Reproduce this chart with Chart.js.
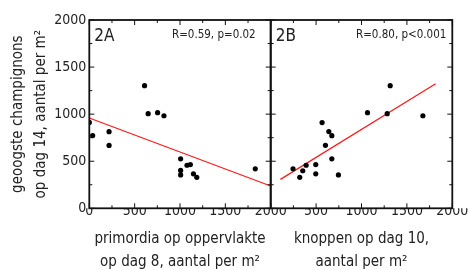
<!DOCTYPE html>
<html>
<head>
<meta charset="utf-8">
<script src="https://cdn.jsdelivr.net/npm/chart.js@4"></script>
<style>
  body { margin: 0; background: #fff; }
  #wrap { position: relative; width: 468px; height: 270px; }
  canvas { position: absolute; left: 0; top: 0; }
</style>
</head>
<body>
<div id="wrap">
  <canvas id="grafiekA" width="468" height="270"></canvas>
  <canvas id="grafiekB" width="468" height="270"></canvas>
</div>
<script>
// paneel 2A: primordia op dag 8 tegen geoogste champignons op dag 14
const primordiaX = [0, 37, 218, 218, 609, 649, 753, 823, 1007, 1007, 1007, 1077, 1114, 1148, 1185, 1830];
const oogstA = [912, 772, 814, 668, 1302, 1005, 1016, 983, 526, 402, 355, 457, 464, 366, 329, 419];
const lijnAX = [0, 2000];
const lijnAY = [959, 237];

// paneel 2B: knoppen op dag 10
const knoppenX = [246, 320, 353, 390, 496, 496, 566, 603, 640, 673, 673, 746, 1066, 1283, 1316, 1676];
const oogstB = [420, 329, 399, 457, 464, 366, 910, 669, 815, 771, 526, 355, 1016, 1005, 1302, 983];
const lijnBX = [107, 1816];
const lijnBY = [307, 1323];

const asTicks = [0, 500, 1000, 1500, 2000];

const lettertype = "'Liberation Sans Narrow', 'DejaVu Sans Condensed', sans-serif";
const tekstKleur = "#222";

function punten(xs, ys) {
  return xs.map((x, i) => ({ x: x, y: ys[i] }));
}

// kader met naar binnen gerichte streepjes en de labels in de hoek
const kader = {
  id: "kader",
  afterDraw(chart, args, opts) {
    const ctx = chart.ctx;
    const a = chart.chartArea;
    const sx = chart.scales.x;
    const sy = chart.scales.y;
    ctx.save();
    ctx.strokeStyle = "#111";
    ctx.lineWidth = 1;
    for (let v = 0; v <= 2000; v += 250) {
      const lang = v % 500 === 0 ? 5 : 3;
      const px = sx.getPixelForValue(v);
      const py = sy.getPixelForValue(v);
      ctx.beginPath();
      ctx.moveTo(px, a.bottom); ctx.lineTo(px, a.bottom - lang);
      ctx.moveTo(px, a.top); ctx.lineTo(px, a.top + lang);
      ctx.moveTo(a.left, py); ctx.lineTo(a.left + lang, py);
      ctx.moveTo(a.right, py); ctx.lineTo(a.right - lang, py);
      ctx.stroke();
    }
    ctx.lineWidth = 1.8;
    ctx.strokeRect(a.left, a.top, a.right - a.left, a.bottom - a.top);

    ctx.fillStyle = tekstKleur;
    ctx.textBaseline = "middle";
    ctx.font = "17px " + lettertype;
    ctx.textAlign = "left";
    ctx.fillText(opts.naam, a.left + 5, a.top + 17);
    ctx.font = "11.5px " + lettertype;
    ctx.textAlign = "right";
    ctx.fillText(opts.stat, a.right - opts.marge, a.top + 15);
    ctx.restore();
  }
};

function maakGrafiek(id, xs, ys, lx, ly, naam, stat, marge, links, rechts, metY, xTitel) {
  return new Chart(document.getElementById(id), {
    type: "scatter",
    data: {
      datasets: [
        {
          data: punten(xs, ys),
          backgroundColor: "#000",
          borderWidth: 0,
          pointRadius: 2.6,
        },
        {
          type: "line",
          data: punten(lx, ly),
          borderColor: "#ff1a1a",
          borderWidth: 1.3,
          pointRadius: 0,
          fill: false,
        },
      ],
    },
    options: {
      responsive: false,
      animation: false,
      events: [],
      layout: { padding: { left: links, right: rechts, top: 20, bottom: -3 } },
      plugins: {
        legend: { display: false },
        tooltip: { enabled: false },
        kader: { naam: naam, stat: stat, marge: marge },
      },
      scales: {
        x: {
          type: "linear",
          min: 0,
          max: 2000,
          afterBuildTicks: (s) => { s.ticks = asTicks.map((v) => ({ value: v })); },
          afterFit: (s) => { s.height = 64.7; s.paddingLeft = 0; s.paddingRight = 0; },
          grid: { display: false, drawTicks: false },
          border: { display: false },
          ticks: {
            padding: -5,
            maxRotation: 0,
            color: tekstKleur,
            font: { family: lettertype, size: 14 },
            callback: (v) => (metY || v !== 0 ? String(v) : ""),
          },
          title: {
            display: true,
            text: xTitel,
            color: tekstKleur,
            font: { family: lettertype, size: 15, lineHeight: 1.5 },
            padding: { top: 0, bottom: 0 },
          },
        },
        y: {
          type: "linear",
          display: metY,
          min: 0,
          max: 2000,
          afterBuildTicks: (s) => { s.ticks = asTicks.map((v) => ({ value: v })); },
          afterFit: (s) => {
            if (metY) { s.width = 89.3; }
            s.paddingTop = 0; s.paddingBottom = 0;
          },
          grid: { display: false, drawTicks: false },
          border: { display: false },
          ticks: {
            padding: 3,
            color: tekstKleur,
            font: { family: lettertype, size: 14 },
            callback: (v) => String(v),
          },
          title: {
            display: true,
            text: ["geoogste champignons", "op dag 14, aantal per m²"],
            color: tekstKleur,
            font: { family: lettertype, size: 15, lineHeight: 1.55 },
            padding: { top: 6.6, bottom: 0 },
          },
        },
      },
    },
    plugins: [kader],
  });
}

maakGrafiek("grafiekA", primordiaX, oogstA, lijnAX, lijnAY, "2A", "R=0.59, p=0.02", 15,
  0, 468 - 270.7, true, ["primordia op oppervlakte", "op dag 8, aantal per m²"]);
maakGrafiek("grafiekB", knoppenX, oogstB, lijnBX, lijnBY, "2B", "R=0.80, p<0.001", 6,
  270.7, 468 - 452.3, false, ["knoppen op dag 10,", "aantal per m²"]);
</script>
</body>
</html>
